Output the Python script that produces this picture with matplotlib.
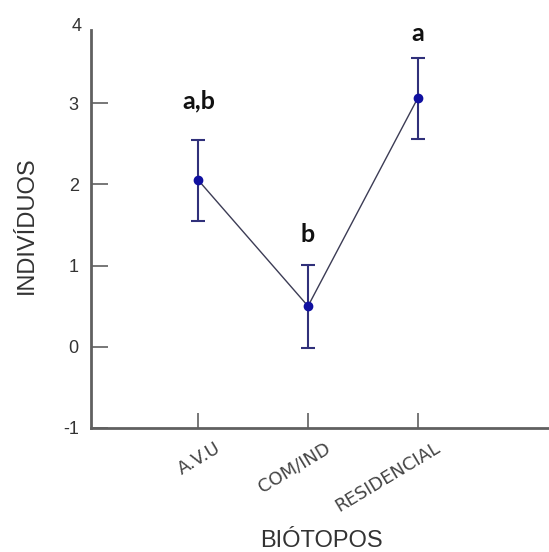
import numpy as np
import matplotlib.pyplot as plt
import matplotlib.transforms as mtransforms

biotopos = ['A.V.U', 'COM/IND', 'RESIDENCIAL']
medias = [2.05, 0.5, 3.06]
erros = [0.5, 0.51, 0.5]
letras = ['a,b', 'b', 'a']
letras_y = [3.03, 1.38, 3.86]

fig = plt.figure(figsize=(5.49, 5.52), dpi=100)
ax = fig.add_axes([0.166, 0.225, 0.834, 0.72])
x = np.arange(1, len(biotopos) + 1)

ax.plot(x, medias, color='#3c3c55', linewidth=1, zorder=2)
ax.errorbar(x, medias, yerr=erros, fmt='o', color='#1010a0', ecolor='#30307a',
            elinewidth=1.5, capsize=5, capthick=1.5, markersize=6, zorder=3)

for xi, txt, yi in zip(x, letras, letras_y):
    ax.text(xi, yi, txt, ha='center', va='center', fontsize=18,
            fontweight='bold', color='#111111', family='Lato')

ax.set_xlim(0.02, 4.2)
ax.set_ylim(-1, 3.9)
ax.set_yticks([-1, 0, 1, 2, 3])
ax.set_yticklabels(['-1', '0', '1', '2', '3'])
# "4" sits just above the top of the axis line, without a tick mark
ax.text(-0.02, 3.95, '4', ha='right', va='center', fontsize=13, color='#333333',
        family='Liberation Sans', transform=ax.get_yaxis_transform(), clip_on=False)

# slanted category labels, drawn by hand so they can sit off the tick
ax.set_xticks(x)
ax.set_xticklabels([])
offset = mtransforms.ScaledTranslation(0.21, -0.19, fig.dpi_scale_trans)
for xi, lab in zip(x, biotopos):
    ax.text(xi, 0, lab, rotation=31, ha='right', va='center', rotation_mode='anchor',
            fontsize=13, color='#444444', family='DejaVu Sans', clip_on=False,
            transform=ax.get_xaxis_transform() + offset)

for lbl in ax.get_yticklabels():
    lbl.set_family('Liberation Sans')
ax.tick_params(axis='y', direction='in', length=12, width=1.2, labelsize=13,
               labelcolor='#333333', color='#606060', pad=9)
ax.tick_params(axis='x', direction='in', length=11, width=1.2, color='#606060')

ax.spines['top'].set_visible(False)
ax.spines['right'].set_visible(False)
ax.spines['left'].set_color('#606060')
ax.spines['bottom'].set_color('#606060')
ax.spines['left'].set_linewidth(2)
ax.spines['bottom'].set_linewidth(2)

fig.text(0.049, 1 - 225 / 552, 'INDIVÍDUOS', rotation=90, ha='center', va='center',
         fontsize=17, color='#333333', family='Liberation Sans')
fig.text(0.585, 1 - 541 / 552, 'BIÓTOPOS', ha='center', va='center',
         fontsize=17, color='#333333', family='Liberation Sans')

fig.savefig('out.png', dpi=100)
